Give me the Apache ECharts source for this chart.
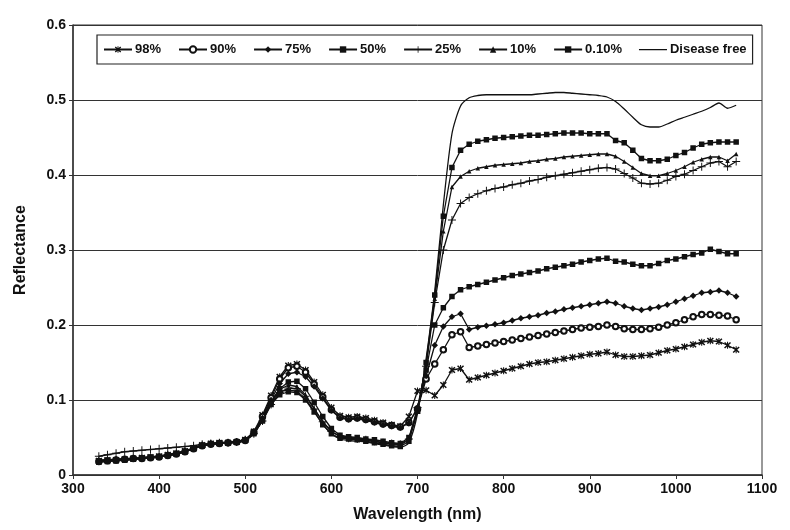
<!DOCTYPE html>
<html>
<head>
<meta charset="utf-8">
<script src="https://cdn.jsdelivr.net/npm/echarts@6/dist/echarts.min.js"></script>
<style>html,body{margin:0;padding:0;background:#fff}#c{width:790px;height:530px}</style>
</head>
<body>
<div id="c"></div>
<script>
const wavelengths = [330,340,350,360,370,380,390,400,410,420,430,440,450,460,470,480,490,500,510,520,530,540,550,560,570,580,590,600,610,620,630,640,650,660,670,680,690,700,710,720,730,740,750,760,770,780,790,800,810,820,830,840,850,860,870,880,890,900,910,920,930,940,950,960,970,980,990,1000,1010,1020,1030,1040,1050,1060,1070];

const s98 = [0.019,0.02,0.02,0.021,0.022,0.023,0.024,0.025,
 0.027,0.029,0.032,0.036,0.04,0.042,0.043,0.043,0.044,0.047,
 0.058,0.08,0.106,0.131,0.146,0.148,0.14,0.124,0.107,0.09,
 0.079,0.077,0.078,0.076,0.073,0.07,0.067,0.065,0.078,
 0.112,0.113,0.106,0.12,0.14,0.142,0.127,0.13,0.133,0.136,
 0.139,0.142,0.145,0.148,0.15,0.151,0.153,0.155,0.157,0.159,
 0.161,0.162,0.164,0.16,0.158,0.158,0.159,0.16,0.163,0.166,
 0.168,0.171,0.174,0.177,0.179,0.178,0.173,0.167];

const s90 = [0.018,0.019,0.02,0.021,0.022,0.022,0.023,0.024,
 0.026,0.028,0.031,0.035,0.039,0.041,0.042,0.043,0.044,0.046,
 0.057,0.078,0.103,0.128,0.143,0.145,0.137,0.121,0.104,0.087,
 0.077,0.075,0.076,0.074,0.071,0.068,0.066,0.064,0.07,
 0.088,0.128,0.148,0.167,0.187,0.191,0.17,0.172,0.174,0.176,
 0.178,0.18,0.182,0.184,0.186,0.188,0.19,0.192,0.194,0.196,
 0.197,0.198,0.2,0.198,0.195,0.194,0.194,0.195,0.197,0.2,
 0.203,0.207,0.211,0.214,0.214,0.213,0.212,0.207];

const s75 = [0.019,0.02,0.021,0.021,0.022,0.023,0.024,0.025,
 0.027,0.029,0.032,0.036,0.04,0.042,0.043,0.044,0.045,0.047,
 0.056,0.076,0.1,0.122,0.135,0.137,0.131,0.118,0.102,0.086,
 0.076,0.074,0.075,0.073,0.07,0.067,0.065,0.063,0.069,
 0.09,0.132,0.173,0.198,0.211,0.215,0.194,0.197,0.199,0.201,
 0.203,0.206,0.209,0.211,0.213,0.216,0.218,0.221,0.223,0.225,
 0.227,0.229,0.231,0.229,0.225,0.222,0.22,0.222,0.224,0.227,
 0.231,0.235,0.239,0.243,0.244,0.246,0.243,0.238];

const s50 = [0.018,0.019,0.019,0.02,0.021,0.022,0.023,0.024,
 0.026,0.028,0.031,0.035,0.039,0.041,0.042,0.043,0.044,0.047,
 0.056,0.074,0.097,0.115,0.124,0.125,0.115,0.097,0.078,0.062,
 0.053,0.051,0.05,0.048,0.047,0.045,0.043,0.042,0.05,
 0.085,0.14,0.2,0.223,0.238,0.247,0.251,0.254,0.257,0.26,
 0.263,0.266,0.268,0.27,0.272,0.275,0.277,0.279,0.281,0.284,
 0.286,0.288,0.289,0.285,0.284,0.281,0.279,0.279,0.282,0.286,
 0.288,0.291,0.294,0.296,0.301,0.298,0.295,0.295];

const s25 = [0.025,0.027,0.029,0.031,0.032,0.033,0.034,0.035,
 0.036,0.037,0.038,0.039,0.041,0.042,0.043,0.043,0.044,0.047,
 0.055,0.072,0.094,0.11,0.116,0.115,0.105,0.088,0.071,0.058,
 0.051,0.049,0.048,0.047,0.045,0.043,0.042,0.041,0.048,
 0.09,0.145,0.23,0.3,0.34,0.362,0.37,0.375,0.379,0.382,
 0.384,0.387,0.389,0.392,0.394,0.397,0.399,0.401,0.403,0.405,
 0.407,0.409,0.41,0.408,0.402,0.396,0.389,0.388,0.389,0.393,
 0.398,0.401,0.406,0.411,0.416,0.418,0.411,0.418];

const s10 = [0.02,0.02,0.021,0.022,0.022,0.023,0.024,0.025,
 0.027,0.029,0.032,0.036,0.04,0.041,0.042,0.043,0.044,0.047,
 0.057,0.076,0.099,0.114,0.12,0.118,0.107,0.089,0.071,0.058,
 0.052,0.05,0.049,0.047,0.045,0.043,0.041,0.04,0.047,
 0.085,0.148,0.235,0.325,0.384,0.398,0.405,0.409,0.411,0.413,
 0.414,0.415,0.416,0.418,0.419,0.421,0.422,0.424,0.425,0.426,
 0.427,0.428,0.428,0.425,0.418,0.41,0.402,0.399,0.399,0.402,
 0.406,0.411,0.417,0.421,0.424,0.424,0.419,0.428];

const s010 = [0.017,0.018,0.019,0.02,0.021,0.022,0.023,0.024,
 0.026,0.028,0.031,0.035,0.039,0.041,0.042,0.043,0.044,0.046,
 0.055,0.072,0.094,0.107,0.111,0.11,0.1,0.084,0.067,0.055,
 0.049,0.048,0.047,0.045,0.043,0.041,0.039,0.038,0.045,
 0.085,0.15,0.24,0.345,0.41,0.433,0.441,0.445,0.447,0.449,
 0.45,0.451,0.452,0.453,0.453,0.454,0.455,0.456,0.456,0.456,
 0.455,0.455,0.455,0.446,0.443,0.433,0.422,0.419,0.419,0.421,
 0.426,0.43,0.436,0.441,0.443,0.444,0.444,0.444];

const sFree = [0.018,0.019,0.02,0.02,0.021,0.022,0.023,0.024,
 0.026,0.028,0.031,0.035,0.039,0.041,0.042,0.043,0.043,0.046,
 0.055,0.073,0.096,0.11,0.113,0.111,0.101,0.085,0.068,0.055,
 0.048,0.046,0.045,0.044,0.042,0.04,0.038,0.037,0.043,
 0.082,0.155,0.245,0.36,0.455,0.492,0.503,0.506,0.507,0.507,
 0.507,0.507,0.507,0.507,0.508,0.509,0.51,0.51,0.509,0.508,
 0.507,0.506,0.504,0.498,0.488,0.477,0.467,0.464,0.464,0.468,
 0.473,0.477,0.481,0.485,0.49,0.496,0.489,0.493];

const seriesNames = ['98%','90%','75%','50%','25%','10%','0.10%','Disease free'];
const yTicks = [0,0.1,0.2,0.3,0.4,0.5,0.6];
const xTicks = [300,400,500,600,700,800,900,1000,1100];

const ASTERISK = 'path://M-0.7,-5L0.7,-5L0.7,5L-0.7,5Z M-4.7,-3.3L-3.3,-4.7L4.7,3.3L3.3,4.7Z M3.3,-4.7L4.7,-3.3L-3.3,4.7L-4.7,3.3Z';
const PLUS = 'path://M-0.6,-5h1.2v4.4h4.4v1.2h-4.4v4.4h-1.2v-4.4h-4.4v-1.2h4.4z';
const LINE_ONLY = 'path://M0,0L0.01,0L0.01,0.01Z M0,3.5L28,3.5L28,4.7L0,4.7Z M27.99,7.99L28,7.99L28,8Z';

const values = [s98, s90, s75, s50, s25, s10, s010, sFree];
const symbols = [
  {symbol: ASTERISK, size: 7},
  {symbol: 'emptyCircle', size: 5.5},
  {symbol: 'diamond', size: 6.5},
  {symbol: 'rect', size: 5.5},
  {symbol: PLUS, size: 8},
  {symbol: 'triangle', size: 4.5},
  {symbol: 'rect', size: 5.5},
  {symbol: 'none', size: 0}
];

const series = seriesNames.map((name, i) => ({
  name: name,
  type: 'line',
  smooth: i === 7 ? 0.25 : false,
  data: wavelengths.map((w, j) => [w, values[i][j]]),
  symbol: symbols[i].symbol,
  symbolSize: symbols[i].size,
  showSymbol: symbols[i].symbol !== 'none',
  lineStyle: {color: '#111', width: 1.3},
  itemStyle: {color: '#111', borderColor: '#111', borderWidth: symbols[i].symbol === 'emptyCircle' ? 1.3 : 0},
  emphasis: {disabled: true},
  animation: false,
  z: 3
}));

const legendData = seriesNames.map(n => n === 'Disease free' ? {name: n, icon: LINE_ONLY} : {name: n});

const chart = echarts.init(document.getElementById('c'), null, {renderer: 'canvas'});
chart.setOption({
  backgroundColor: '#fff',
  animation: false,
  grid: {left: 73, right: 28, top: 25, bottom: 55, show: true, borderColor: '#333', borderWidth: 1, backgroundColor: 'transparent'},
  legend: {
    data: legendData,
    left: 97, top: 35,
    width: 680,
    padding: [8, 6, 8, 6],
    itemGap: 17,
    itemWidth: 28, itemHeight: 8,
    borderColor: '#222', borderWidth: 1.2,
    backgroundColor: '#fff',
    textStyle: {color: '#111', fontWeight: 'bold', fontSize: 13, fontFamily: 'Liberation Sans, Arial, sans-serif', padding: [0,0,0,-2]}
  },
  xAxis: {
    type: 'value', min: 300, max: 1100, interval: 100,
    name: 'Wavelength (nm)', nameLocation: 'middle', nameGap: 32,
    nameTextStyle: {color: '#111', fontWeight: 'bold', fontSize: 16, fontFamily: 'Liberation Sans, Arial, sans-serif'},
    axisLine: {lineStyle: {color: '#333', width: 1.5}},
    axisTick: {show: true, length: 4, lineStyle: {color: '#333'}},
    axisLabel: {color: '#111', fontWeight: 'bold', fontSize: 14, margin: 7, fontFamily: 'Liberation Sans, Arial, sans-serif',
      formatter: v => String(Math.round(v))},
    splitLine: {show: false}
  },
  yAxis: {
    type: 'value', min: 0, max: 0.6, interval: 0.1,
    name: 'Reflectance', nameLocation: 'middle', nameGap: 44, nameRotate: 90,
    nameTextStyle: {color: '#111', fontWeight: 'bold', fontSize: 16, fontFamily: 'Liberation Sans, Arial, sans-serif'},
    axisLine: {show: true, lineStyle: {color: '#333', width: 1.5}},
    axisTick: {show: true, length: 4, lineStyle: {color: '#333'}},
    axisLabel: {color: '#111', fontWeight: 'bold', fontSize: 14, margin: 7, fontFamily: 'Liberation Sans, Arial, sans-serif',
      formatter: v => (Math.abs(v) < 1e-9 ? '0' : (Math.round(v*10)/10).toFixed(1))},
    splitLine: {show: true, lineStyle: {color: '#333', width: 1}}
  },
  series: series
});
</script>
</body>
</html>
